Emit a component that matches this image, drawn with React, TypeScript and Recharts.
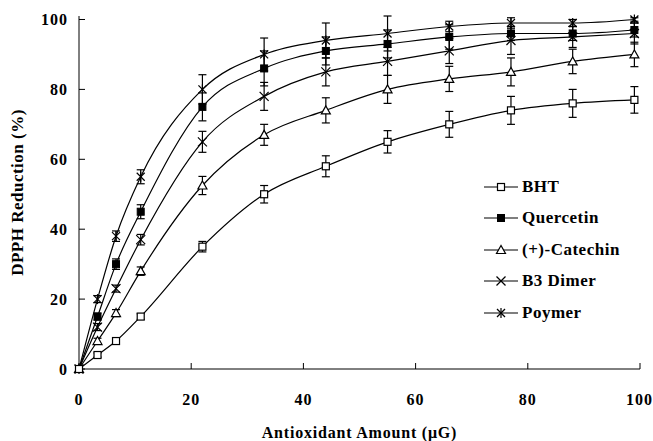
import React from 'react';
import { LineChart, Line, XAxis, YAxis, ErrorBar, Label } from 'recharts';

const amounts = [0, 3.3, 6.6, 11, 22, 33, 44, 55, 66, 77, 88, 99];

const bht = [0, 4, 8, 15, 35, 50, 58, 65, 70, 74, 76, 77];
const bhtErr = [0, 0.6, 0.8, 0.8, 1.5, 2.5, 3, 3.2, 3.7, 4, 4, 3.8];
const quercetin = [0, 15, 30, 45, 75, 86, 91, 93, 95, 96, 96, 97];
const quercetinErr = [0, 1, 1.5, 2, 4, 5, 4, 4, 3.5, 2, 2, 2];
const catechin = [0, 8, 16, 28, 52.5, 67, 74, 80, 83, 85, 88, 90];
const catechinErr = [0, 0.8, 1, 1.2, 2.6, 3, 3.6, 4, 3.6, 4, 3.5, 3.5];
const dimer = [0, 12, 23, 37, 65, 78, 85, 88, 91, 94, 95, 96];
const dimerErr = [0, 1, 1, 1.5, 3, 4, 4, 4, 3.6, 4, 3, 3];
const polymer = [0, 20, 38, 55, 80, 90, 94, 96, 98, 99, 99, 100];
const polymerErr = [0, 1, 1.5, 2, 4.2, 4.7, 5, 5, 1.5, 1.5, 1, 0.5];

const xTicks = [0, 20, 40, 60, 80, 100];
const yTicks = [0, 20, 40, 60, 80, 100];

const data = amounts.map((a, i) => ({
  amount: a,
  bht: bht[i], bhtErr: bhtErr[i],
  quercetin: quercetin[i], quercetinErr: quercetinErr[i],
  catechin: catechin[i], catechinErr: catechinErr[i],
  dimer: dimer[i], dimerErr: dimerErr[i],
  polymer: polymer[i], polymerErr: polymerErr[i],
}));

const FONT = 'Liberation Serif';

type Shape = 'openSquare' | 'filledSquare' | 'triangle' | 'cross' | 'star';

function Marker({ cx, cy, shape }: { cx: number; cy: number; shape: Shape }) {
  const s = 3.5;
  switch (shape) {
    case 'openSquare':
      return <rect x={cx - s} y={cy - s} width={s * 2} height={s * 2} fill="#fff" stroke="#000" strokeWidth={1.2} />;
    case 'filledSquare':
      return <rect x={cx - s} y={cy - s} width={s * 2} height={s * 2} fill="#000" stroke="#000" />;
    case 'triangle':
      return (
        <polygon
          points={`${cx},${cy - 4.5} ${cx - 4.5},${cy + 3.5} ${cx + 4.5},${cy + 3.5}`}
          fill="#fff"
          stroke="#000"
          strokeWidth={1.2}
        />
      );
    case 'cross':
      return (
        <g stroke="#000" strokeWidth={1.2}>
          <line x1={cx - 4.5} y1={cy - 4.5} x2={cx + 4.5} y2={cy + 4.5} />
          <line x1={cx - 4.5} y1={cy + 4.5} x2={cx + 4.5} y2={cy - 4.5} />
        </g>
      );
    default:
      return (
        <g stroke="#000" strokeWidth={1.2}>
          <line x1={cx - 4} y1={cy - 4} x2={cx + 4} y2={cy + 4} />
          <line x1={cx - 4} y1={cy + 4} x2={cx + 4} y2={cy - 4} />
          <line x1={cx} y1={cy - 5} x2={cx} y2={cy + 5} />
        </g>
      );
  }
}

const series: { key: string; name: string; shape: Shape }[] = [
  { key: 'bht', name: 'BHT', shape: 'openSquare' },
  { key: 'quercetin', name: 'Quercetin', shape: 'filledSquare' },
  { key: 'catechin', name: '(+)-Catechin', shape: 'triangle' },
  { key: 'dimer', name: 'B3 Dimer', shape: 'cross' },
  { key: 'polymer', name: 'Poymer', shape: 'star' },
];

function LegendBox() {
  return (
    <div
      style={{
        position: 'absolute',
        left: 484,
        top: 171,
        fontFamily: FONT,
        fontWeight: 'bold',
        fontSize: 17,
        letterSpacing: 0.5,
      }}
    >
      {series.map((s) => (
        <div key={s.key} style={{ display: 'flex', alignItems: 'center', height: 31.5 }}>
          <svg width={34} height={14} style={{ marginRight: 4 }}>
            <line x1={0} y1={7} x2={34} y2={7} stroke="#000" strokeWidth={1.2} />
            <Marker cx={17} cy={7} shape={s.shape} />
          </svg>
          <span>{s.name}</span>
        </div>
      ))}
    </div>
  );
}

const tickStyle = { fill: '#000', fontFamily: FONT, fontWeight: 'bold', fontSize: 16, letterSpacing: 1 };

export default function App() {
  const drawOrder = [...series].reverse();
  return (
    <div style={{ position: 'absolute', left: 0, top: 0, width: 653, height: 441, background: '#fff', fontFamily: FONT }}>
      <LineChart width={653} height={441} data={data} margin={{ top: 16, right: 13, bottom: 0, left: 29 }}>
        <XAxis
          dataKey="amount"
          type="number"
          domain={[0, 100]}
          ticks={xTicks}
          stroke="#000"
          tickSize={-6}
          tickMargin={31}
          tick={tickStyle}
          height={72}
        >
          <Label
            value="Antioxidant Amount (μG)"
            position="insideBottom"
            offset={3}
            style={{ fill: '#000', fontFamily: FONT, fontWeight: 'bold', fontSize: 16, letterSpacing: 0.8 }}
          />
        </XAxis>
        <YAxis
          type="number"
          domain={[0, 100]}
          ticks={yTicks}
          stroke="#000"
          tickSize={-6}
          tickMargin={17}
          width={50}
          tick={tickStyle}
        >
          <Label
            value="DPPH Reduction (%)"
            angle={-90}
            position="insideLeft"
            offset={-12}
            style={{ textAnchor: 'middle', fill: '#000', fontFamily: FONT, fontWeight: 'bold', fontSize: 17, letterSpacing: 0.5 }}
          />
        </YAxis>
        {drawOrder.map((s) => (
          <Line
            key={s.key}
            type="monotone"
            dataKey={s.key}
            name={s.name}
            stroke="#000"
            strokeWidth={1.2}
            isAnimationActive={false}
            dot={(p: any) => <Marker key={`${s.key}-${p.index}`} cx={p.cx} cy={p.cy} shape={s.shape} />}
          >
            <ErrorBar dataKey={`${s.key}Err`} width={4} stroke="#000" strokeWidth={1.2} direction="y" />
          </Line>
        ))}
      </LineChart>
      <LegendBox />
    </div>
  );
}
